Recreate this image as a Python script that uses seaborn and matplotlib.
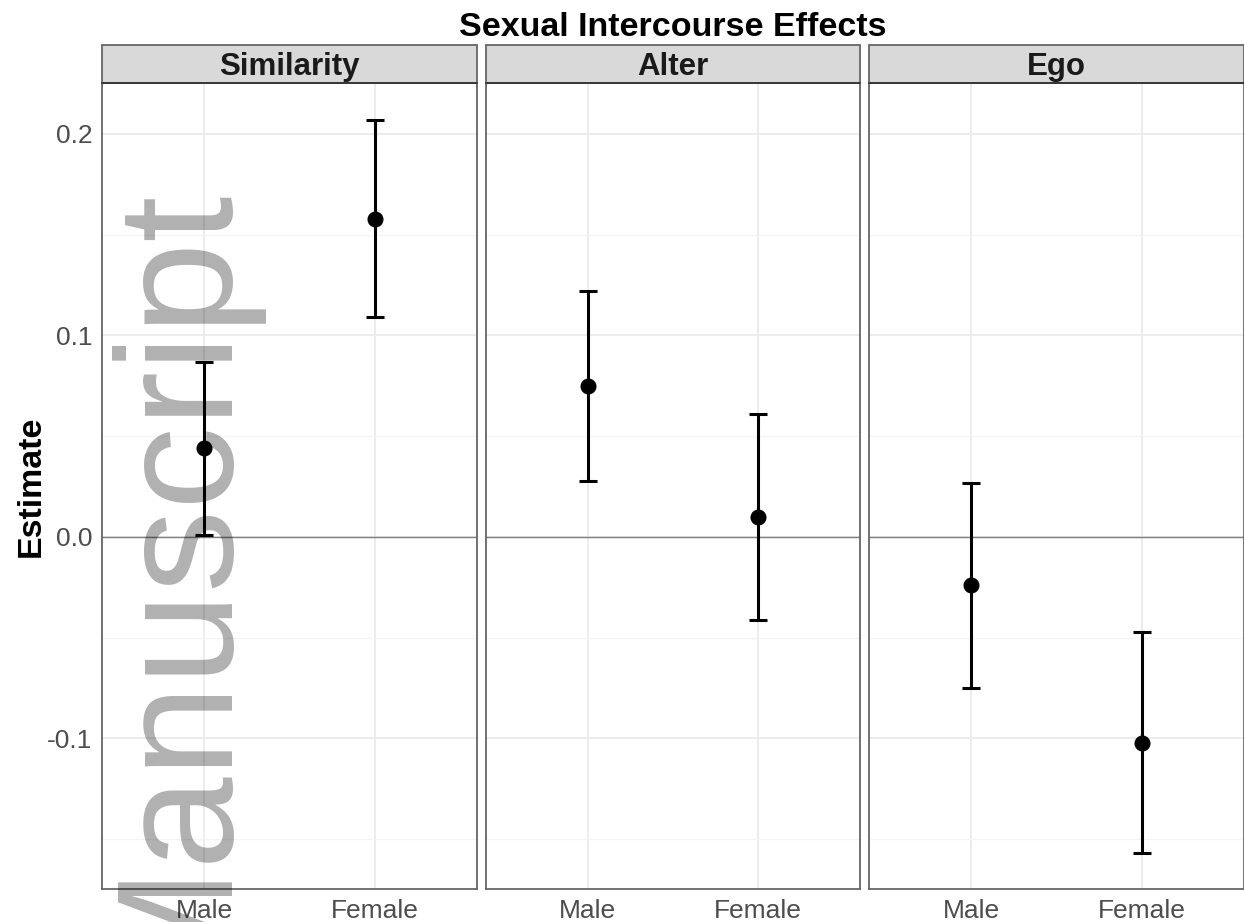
import numpy as np
import pandas as pd
import matplotlib.pyplot as plt
import seaborn as sns
from matplotlib.patches import Rectangle
from matplotlib.ticker import FixedLocator

# --- data ---
effects = ["Similarity", "Alter", "Ego"]
sexes = ["Male", "Female"]
estimate = [0.044, 0.158, 0.075, 0.010, -0.024, -0.102]
lower = [0.001, 0.109, 0.028, -0.041, -0.075, -0.157]
upper = [0.087, 0.207, 0.122, 0.061, 0.027, -0.047]
ytick_vals = [-0.1, 0.0, 0.1, 0.2]
ytick_labels = ["-0.1", "0.0", "0.1", "0.2"]
yminor_vals = [-0.15, -0.05, 0.05, 0.15]

df = pd.DataFrame({
    "effect": np.repeat(effects, 2),
    "sex": sexes * 3,
    "estimate": estimate,
    "lower": lower,
    "upper": upper,
})

sns.set_theme(style="white")
plt.rcParams["font.family"] = ["Liberation Sans", "DejaVu Sans"]


def draw(data, **kws):
    ax = plt.gca()
    pos = [sexes.index(s) for s in data["sex"]]
    ax.errorbar(pos, data["estimate"],
                yerr=[data["estimate"] - data["lower"], data["upper"] - data["estimate"]],
                fmt="none", ecolor="black", elinewidth=2.2, capsize=6.3, capthick=2.2, zorder=3)
    sns.pointplot(data=data, x="sex", y="estimate", order=sexes, color="black",
                  linestyle="none", marker="o", markersize=9.5, errorbar=None, ax=ax, zorder=4)


g = sns.FacetGrid(df, col="effect", col_order=effects, sharey=True, sharex=True,
                  height=9.22, aspect=0.45, despine=False)
g.map_dataframe(draw)
g.figure.set_size_inches(12.44, 9.22)
g.figure.subplots_adjust(left=102 / 1244, right=1.0, bottom=33 / 922, top=839 / 922, wspace=0.0227)
g.set_axis_labels("", "")
g.set_titles("")

ymin, ymax = -0.1747, 0.2253
strip_h = 38 / 806
for i, (ax, name) in enumerate(zip(g.axes.flat, effects)):
    ax.set_xlim(-0.6, 1.6)
    ax.set_ylim(ymin, ymax)
    ax.set_xticks([0, 1])
    ax.set_xticklabels(sexes)
    ax.set_yticks(ytick_vals)
    ax.set_yticklabels(ytick_labels)
    ax.yaxis.set_minor_locator(FixedLocator(yminor_vals))
    ax.grid(True, which="major", color="#ebebeb", lw=1.3, zorder=0)
    ax.grid(True, which="minor", axis="y", color="#f4f4f4", lw=0.9, zorder=0)
    ax.set_axisbelow(True)
    ax.axhline(0, color="#7f7f7f", lw=1.0, zorder=2)
    ax.tick_params(axis="both", which="major", length=4, width=1.1, color="#333333",
                   labelsize=19, labelcolor="#4d4d4d", pad=3)
    ax.tick_params(which="minor", length=0)
    if i > 0:
        ax.tick_params(axis="y", length=0, labelleft=False)
    for sp in ax.spines.values():
        sp.set_visible(True)
        sp.set_color("#666666")
        sp.set_linewidth(1.3)
    # facet strip
    ax.add_patch(Rectangle((0, 1), 1, strip_h, transform=ax.transAxes, facecolor="#d9d9d9",
                           edgecolor="#666666", lw=1.3, clip_on=False, zorder=5))
    ax.plot([0, 1], [1, 1], transform=ax.transAxes, color="#333333", lw=1.3, clip_on=False, zorder=6)
    ax.text(0.5, (889 - 75) / 806, name, transform=ax.transAxes, ha="center", va="baseline",
            fontsize=22.5, fontweight="bold", color="#1a1a1a", zorder=7)

fig = g.figure
fig.text(673 / 1244, 1 - 36 / 922, "Sexual Intercourse Effects", ha="center", va="baseline",
         fontsize=24.5, fontweight="bold", color="black")
fig.text(31 / 1244, 1 - 486 / 922, "Estimate", rotation=90, ha="center", va="center",
         fontsize=24.5, fontweight="bold", color="black")

# watermark over the left panel
fig.text(219 / 1244, 1 - 181 / 922, "Manuscript", rotation=90, rotation_mode="anchor",
         ha="right", va="baseline", fontsize=119.5, color="black", alpha=0.31, zorder=10)

fig.savefig("out.png", dpi=100)
